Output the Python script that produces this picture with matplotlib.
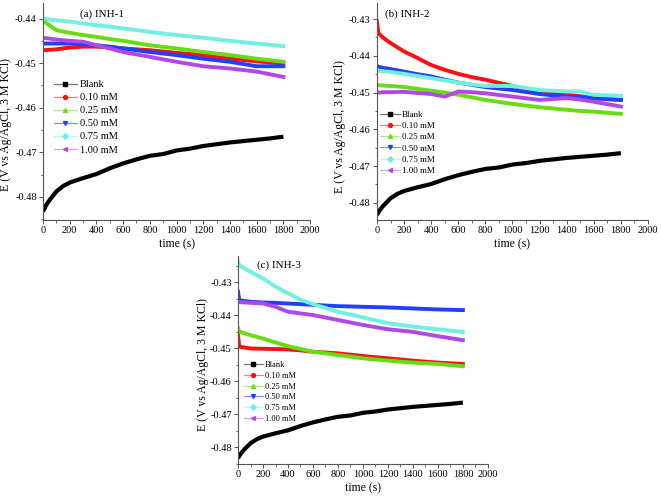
import matplotlib
matplotlib.use("Agg")
import matplotlib.pyplot as plt
from matplotlib.lines import Line2D
from matplotlib.ticker import MultipleLocator

plt.rcParams['font.family'] = ['Liberation Serif', 'DejaVu Serif']

labels = ["Blank", "0.10 mM", "0.25 mM", "0.50 mM", "0.75 mM", "1.00 mM"]
colors = ["#000000", "#ff1010", "#66dd11", "#2040ff", "#70f0e0", "#b048e8"]
light = ["#777777", "#ff8080", "#a8f070", "#8090ff", "#b0fff0", "#d8a0ff"]
markers = ["s", "o", "^", "v", "D", "<"]

# Blank (same in every panel)
t_blank = [0, 25, 50, 100, 150, 200, 300, 400, 500, 600, 700, 800, 900, 1000,
           1100, 1200, 1300, 1400, 1500, 1600, 1700, 1800]
e_blank = [-0.4833, -0.4818, -0.4807, -0.4788, -0.4776, -0.4768, -0.4758, -0.4749,
           -0.4736, -0.4725, -0.4716, -0.4708, -0.4704, -0.4696, -0.4692, -0.4686,
           -0.4682, -0.4678, -0.4675, -0.4672, -0.4669, -0.4665]

# Panel (a) INH-1
a_t = [0, 100, 200, 300, 400, 500, 600, 800, 1000, 1200, 1400, 1600, 1800]
a_010 = [-0.4471, -0.4469, -0.4465, -0.4463, -0.4463, -0.4465, -0.4467, -0.4471,
         -0.4477, -0.4482, -0.4490, -0.4496, -0.4501]
a_025 = [-0.4405, -0.4426, -0.4432, -0.4437, -0.4441, -0.4446, -0.4450, -0.4460,
         -0.4467, -0.4475, -0.4482, -0.4490, -0.4497]
a_050 = [-0.4456, -0.4456, -0.4456, -0.4458, -0.4460, -0.4463, -0.4467, -0.4475,
         -0.4482, -0.4490, -0.4497, -0.4507, -0.4507]
a_075 = [-0.4400, -0.4404, -0.4407, -0.4411, -0.4415, -0.4418, -0.4422, -0.4430,
         -0.4437, -0.4443, -0.4450, -0.4456, -0.4462]
a_100 = [-0.4443, -0.4447, -0.4450, -0.4452, -0.4460, -0.4467, -0.4475, -0.4486,
         -0.4497, -0.4507, -0.4512, -0.4519, -0.4531]

# Panel (b) INH-2
b_t = [0, 10, 50, 100, 200, 300, 400, 500, 600, 700, 800, 1000, 1200, 1400, 1500, 1600, 1800]
b_010 = [-0.4306, -0.4338, -0.4352, -0.4365, -0.4388, -0.4406, -0.4425, -0.4438,
         -0.4449, -0.4458, -0.4465, -0.4482, -0.4497, -0.4506, -0.4510, -0.4515, -0.4520]
b_025 = [-0.4479, -0.4480, -0.4481, -0.4482, -0.4485, -0.4490, -0.4495, -0.4500,
         -0.4506, -0.4513, -0.4520, -0.4531, -0.4540, -0.4547, -0.4550, -0.4552, -0.4558]
b_050 = [-0.4427, -0.4430, -0.4433, -0.4436, -0.4443, -0.4450, -0.4456, -0.4465,
         -0.4473, -0.4479, -0.4485, -0.4493, -0.4504, -0.4511, -0.4513, -0.4516, -0.4520]
b_075 = [-0.4438, -0.4440, -0.4442, -0.4444, -0.4449, -0.4455, -0.4461, -0.4467,
         -0.4473, -0.4478, -0.4482, -0.4482, -0.4493, -0.4497, -0.4497, -0.4506, -0.4509]
b_100 = [-0.4500, -0.4500, -0.4499, -0.4499, -0.4498, -0.4501, -0.4504, -0.4511,
         -0.4497, -0.4499, -0.4502, -0.4511, -0.4520, -0.4515, -0.4519, -0.4525, -0.4538]

# Panel (c) INH-3
c_t = [0, 10, 100, 200, 300, 400, 500, 600, 800, 1000, 1200, 1400, 1600, 1800]
c_010 = [-0.4461, -0.4496, -0.4501, -0.4502, -0.4503, -0.4504, -0.4507, -0.4511,
         -0.4516, -0.4524, -0.4531, -0.4538, -0.4544, -0.4548]
c_025 = [-0.4440, -0.4450, -0.4461, -0.4471, -0.4483, -0.4494, -0.4503, -0.4511,
         -0.4521, -0.4531, -0.4538, -0.4544, -0.4548, -0.4555]
c_050 = [-0.4329, -0.4355, -0.4360, -0.4362, -0.4363, -0.4365, -0.4367, -0.4369,
         -0.4373, -0.4375, -0.4377, -0.4380, -0.4383, -0.4385]
c_075 = [-0.4238, -0.4250, -0.4269, -0.4289, -0.4314, -0.4334, -0.4353, -0.4367,
         -0.4390, -0.4407, -0.4425, -0.4435, -0.4443, -0.4451]
c_100 = [-0.4360, -0.4361, -0.4363, -0.4365, -0.4375, -0.4390, -0.4395, -0.4400,
         -0.4415, -0.4430, -0.4443, -0.4451, -0.4464, -0.4476]

panels = [
    ("(a) INH-1", a_t, [a_010, a_025, a_050, a_075, a_100]),
    ("(b) INH-2", b_t, [b_010, b_025, b_050, b_075, b_100]),
    ("(c) INH-3", c_t, [c_010, c_025, c_050, c_075, c_100]),
]

fig = plt.figure(figsize=(6.61, 4.96), dpi=100)
rects = [
    [0.0651, 0.5565, 0.404, 0.4375],
    [0.5703, 0.5565, 0.410, 0.4375],
    [0.3601, 0.0645, 0.378, 0.4195],
]
ylims = [(-0.4852, -0.4365), (-0.4847, -0.4256), (-0.4851, -0.4221)]
title_pos = [(0.14, 0.95), (0.03, 0.95), (0.076, 0.955)]
ylabel_y = [0.44, 0.43, 0.48]
leg_cfg = [  # (anchor x, anchor y, fontsize, labelspacing)
    (0.04, 0.645, 7.5, 0.36),
    (0.01, 0.505, 6.5, 0.33),
    (0.025, 0.495, 6.0, 0.33),
]

for i, (title, t, series) in enumerate(panels):
    ax = fig.add_axes(rects[i])
    ax.plot(t_blank, e_blank, color=colors[0], lw=3.0, solid_capstyle='butt')
    for j, vals in enumerate(series):
        ax.plot(t, vals, color=colors[j + 1], lw=2.8)
    ax.set_xlim(0, 2000)
    ax.set_ylim(*ylims[i])
    ax.xaxis.set_major_locator(MultipleLocator(200))
    ax.xaxis.set_minor_locator(MultipleLocator(100))
    ax.yaxis.set_major_locator(MultipleLocator(0.01))
    ax.yaxis.set_minor_locator(MultipleLocator(0.005))
    ax.yaxis.set_major_formatter(plt.FuncFormatter(lambda v, p: f"{v:.2f}"))
    ax.spines['top'].set_visible(False)
    ax.spines['right'].set_visible(False)
    ax.spines['left'].set_color('#555555')
    ax.spines['bottom'].set_color('#555555')
    ax.tick_params(axis='both', which='major', direction='out', length=3,
                   width=0.7, labelsize=7.5, pad=1.5, color='#555555')
    ax.tick_params(axis='both', which='minor', direction='out', length=1.8,
                   width=0.6, color='#555555')
    ax.set_xlabel("time (s)", fontsize=8.5, labelpad=2)
    ax.set_ylabel("E (V vs Ag/AgCl, 3 M KCl)", fontsize=8.5, labelpad=1)
    ax.yaxis.set_label_coords(-0.115 if i != 1 else -0.115, ylabel_y[i])
    ax.text(title_pos[i][0], title_pos[i][1], title, transform=ax.transAxes,
            fontsize=8, va='center', ha='left')
    handles = [Line2D([], [], color=light[k], lw=0.9, marker=markers[k],
                      mfc=colors[k], mec=colors[k], ms=2.8) for k in range(6)]
    lx, ly, lfs, lsp = leg_cfg[i]
    ax.legend(handles, labels, loc='upper left', bbox_to_anchor=(lx, ly),
              frameon=False, fontsize=lfs, handlelength=2.2, handletextpad=0.3,
              labelspacing=lsp, borderpad=0, borderaxespad=0)

fig.savefig("out.png", dpi=100)
